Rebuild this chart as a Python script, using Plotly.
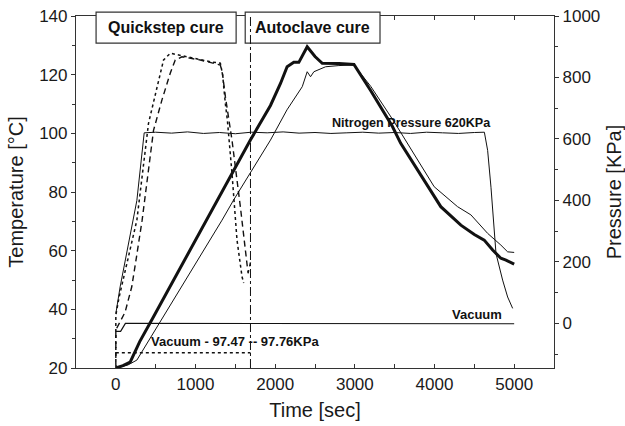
import plotly.graph_objects as go

# ---------------- data ----------------
# Autoclave cure, part temperature 1 (thick line)
t_auto1 = [0, 90, 180, 300, 473, 935, 1689, 1941, 2067, 2150, 2234, 2297, 2402, 2500, 2591,
           2800, 2989, 3200, 3472, 3576, 3800, 4079, 4331, 4500, 4624, 4730, 4833, 4897, 5000]
T_auto1 = [20, 20.8, 22, 29, 37.5, 60.2, 97.7, 109.5, 117, 122.7, 124.2, 124.2, 129.5, 126.2, 123.9,
           123.8, 123.5, 114.5, 102.3, 96.6, 87, 75, 68.7, 65.5, 63.6, 60.2, 57.4, 56.8, 55.4]

# Autoclave cure, part temperature 2 (thin line)
t_auto2 = [0, 150, 264, 830, 1333, 1479, 1689, 1941, 2148, 2340, 2402, 2444, 2486, 2633, 2800,
           2989, 3200, 3492, 3996, 4289, 4457, 4667, 4833, 4918, 5000]
T_auto2 = [20, 21, 22.7, 47.7, 70.4, 77.3, 86.4, 97.7, 108, 115.9, 121, 119.3, 121, 122.7, 123.1,
           123.3, 116, 104, 81.8, 75, 72.2, 65.9, 61.9, 59.6, 59.4]

# Quickstep cure, temperature A (dotted)
t_qs1 = [0, 0, 40, 117, 200, 264, 410, 512, 599, 683, 788, 935, 1186, 1312, 1340, 1375, 1400,
         1458, 1521, 1584, 1605]
T_qs1 = [20, 38, 44, 53, 62, 70.4, 103.4, 114.8, 125, 127.3, 126.7, 125.6, 124.4, 123.9, 120, 110,
         104.5, 86.4, 63.6, 51.1, 49]

# Quickstep cure, temperature B (dashed)
t_qs2 = [0, 0, 116, 200, 260, 330, 473, 579, 683, 746, 830, 1060, 1312, 1340, 1375, 1417, 1458,
         1563, 1626, 1660, 1690]
T_qs2 = [20, 33, 39, 47.7, 58, 70.4, 101, 111.4, 120.5, 125, 126.1, 125, 123.3, 120, 112.5, 105.7,
         97.7, 75, 60.2, 52.3, 56]

# Nitrogen pressure (right axis, KPa)
t_n2 = [0, 54, 264, 356, 500, 700, 900, 1100, 1300, 1500, 1700, 1900, 2100, 2300, 2500, 2700,
        2900, 3100, 3300, 3500, 3700, 3900, 4100, 4300, 4500, 4626, 4667, 4709, 4772, 4855, 4918, 4981]
P_n2 = [32, 119, 400, 620, 622, 619, 623, 618, 621, 617, 622, 620, 623, 619, 621, 618,
        620, 622, 619, 621, 618, 622, 620, 618, 621, 622, 563, 443, 227, 141, 86, 49]

# Autoclave vacuum (right axis, KPa)
t_vac = [0, 60, 120, 2500, 5000]
P_vac = [-26, -26, 0, 0, -1]

# Quickstep vacuum (right axis, KPa)
t_qsvac = [0, 1690]
P_qsvac = [-95, -95]

# switch from Quickstep to autoclave cure
cure_switch_time = 1690

x_ticks = [0, 1000, 2000, 3000, 4000, 5000]
y_ticks = [20, 40, 60, 80, 100, 120, 140]
y2_ticks = [0, 200, 400, 600, 800, 1000]

# ---------------- figure ----------------
fig = go.Figure()
blk = "#111111"

fig.add_trace(go.Scatter(x=t_qs1, y=T_qs1, mode="lines",
                         line=dict(color=blk, width=1.5, dash="dot")))
fig.add_trace(go.Scatter(x=t_qs2, y=T_qs2, mode="lines",
                         line=dict(color=blk, width=1.4, dash="6px,4px")))
fig.add_trace(go.Scatter(x=t_auto2, y=T_auto2, mode="lines",
                         line=dict(color=blk, width=1)))
fig.add_trace(go.Scatter(x=t_auto1, y=T_auto1, mode="lines",
                         line=dict(color=blk, width=3)))
fig.add_trace(go.Scatter(x=t_n2, y=P_n2, mode="lines", yaxis="y2",
                         line=dict(color=blk, width=1)))
fig.add_trace(go.Scatter(x=t_vac, y=P_vac, mode="lines", yaxis="y2",
                         line=dict(color=blk, width=1.2)))
fig.add_trace(go.Scatter(x=t_qsvac, y=P_qsvac, mode="lines", yaxis="y2",
                         line=dict(color=blk, width=1.5, dash="dot")))

font = "Liberation Sans, Arial, Helvetica, sans-serif"
axcol = "#333333"

# label boxes (drawn as shapes so the separator line can sit on top)
boxes = [(0.042, 0.335), (0.354, 0.636)]
for x0, x1 in boxes:
    fig.add_shape(type="rect", xref="paper", yref="paper", x0=x0, x1=x1, y0=0.923, y1=1.011,
                  fillcolor="white", line=dict(color=axcol, width=1.2), layer="above")
fig.add_shape(type="line", xref="x", yref="paper", x0=cure_switch_time, x1=cure_switch_time,
              y0=0, y1=1, line=dict(color=blk, width=1, dash="dashdot"), layer="above")


def label(text, x, y, size):
    fig.add_annotation(text=text, x=x, y=y, xref="paper", yref="paper", showarrow=False,
                       xanchor="center", yanchor="middle",
                       font=dict(family=font, size=size, color=blk))


label("<b>Quickstep cure</b>", 0.188, 0.967, 16)
label("<b>Autoclave cure</b>", 0.495, 0.967, 16)
label("<b>Nitrogen Pressure 620KPa</b>", 0.702, 0.695, 12.6)
label("<b>Vacuum</b>", 0.839, 0.151, 13)
label("<b>Vacuum - 97.47 -- 97.76KPa</b>", 0.333, 0.075, 13)

fig.update_layout(
    width=625, height=426,
    margin=dict(l=76, r=71, t=16, b=58),
    paper_bgcolor="white", plot_bgcolor="white",
    showlegend=False,
    font=dict(family=font, size=17, color="#1a1a1a"),
    xaxis=dict(range=[-500, 5500], tickvals=x_ticks, ticktext=[str(v) for v in x_ticks],
               ticks="inside", ticklen=4, tickcolor=axcol, showline=True, linecolor=axcol,
               linewidth=1.2, mirror="ticks", showgrid=False, zeroline=False, automargin=False,
               minor=dict(dtick=500, tick0=0, ticks="inside", ticklen=4, tickcolor=axcol, showgrid=False),
               title=dict(text="Time [sec]", font=dict(size=20), standoff=10)),
    yaxis=dict(range=[20, 140], tickvals=y_ticks, ticks="outside", ticklen=4, tickcolor=axcol,
               showline=True, linecolor=axcol, linewidth=1.2, showgrid=False, zeroline=False,
               automargin=False,
               minor=dict(dtick=10, tick0=0, ticks="outside", ticklen=3, tickcolor=axcol, showgrid=False),
               title=dict(text="Temperature [°C]", font=dict(size=20), standoff=10)),
    yaxis2=dict(range=[-145, 1000], tickvals=y2_ticks, overlaying="y", side="right",
                ticks="outside", ticklen=4, tickcolor=axcol, showline=True, linecolor=axcol,
                linewidth=1.2, showgrid=False, zeroline=False, automargin=False,
                minor=dict(dtick=100, tick0=0, ticks="outside", ticklen=3, tickcolor=axcol, showgrid=False),
                title=dict(text="Pressure [KPa]", font=dict(size=20), standoff=10)),
)

fig.write_html("out.html")
